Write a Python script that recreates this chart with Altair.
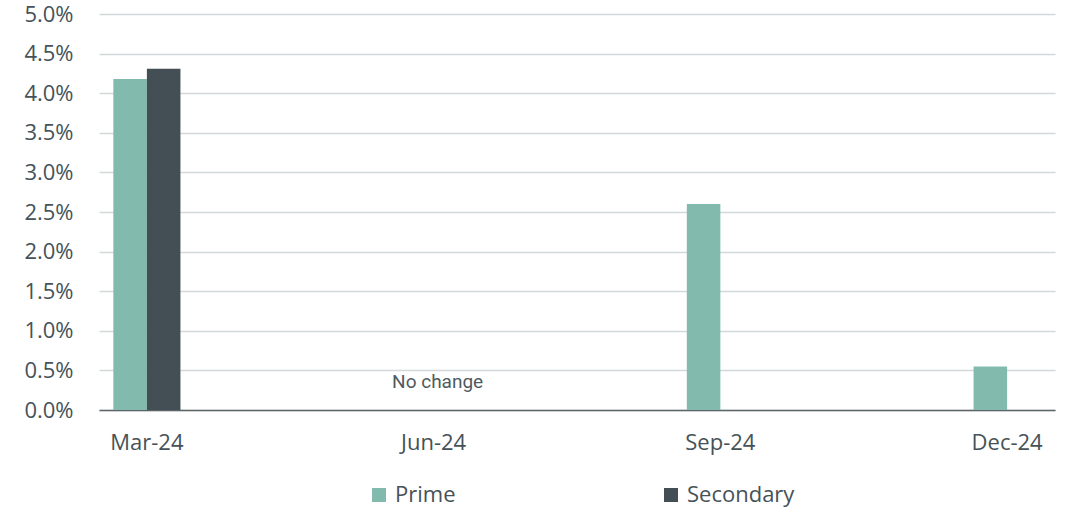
import altair as alt
import pandas as pd

categories = ["Mar-24", "Jun-24", "Sep-24", "Dec-24"]
prime = [0.0418, 0.0, 0.0260, 0.0055]
secondary = [0.0431, 0.0, 0.0, 0.0]
series = ["Prime", "Secondary"]
colors = ["#82BBAD", "#434F54"]
y_ticks = [0.0, 0.005, 0.01, 0.015, 0.02, 0.025, 0.03, 0.035, 0.04, 0.045, 0.05]
note_category = "Jun-24"
note_text = "No change"
note_y = 0.0028

rows = []
for i, c in enumerate(categories):
    rows.append({"category": c, "series": "Prime", "value": prime[i]})
    rows.append({"category": c, "series": "Secondary", "value": secondary[i]})
df = pd.DataFrame(rows)
note_df = pd.DataFrame([{"category": note_category, "value": note_y, "text": note_text}])

FONT = "Open Sans"
TXT = "#465257"
FS = 22

x_axis = alt.Axis(
    title=None, labelAngle=0, labelFontSize=FS, labelFont=FONT, labelColor=TXT,
    ticks=False, labelPadding=22, domainColor="#5B666A", domainWidth=1.5,
    grid=False,
)
y_axis = alt.Axis(
    title=None, format=".1%", values=y_ticks, labelFontSize=FS, labelFont=FONT,
    labelColor=TXT, ticks=False, domain=False, labelPadding=26,
    labelOverlap=False, gridColor="#D3D8D9", gridWidth=1.5,
)
x_scale = alt.Scale(domain=categories, paddingInner=0.766, paddingOuter=0.05)
y_scale = alt.Scale(domain=[0, 0.05], nice=False)

bars = alt.Chart(df).mark_bar().encode(
    x=alt.X("category:N", sort=categories, scale=x_scale, axis=x_axis),
    xOffset=alt.XOffset("series:N", sort=series,
                        scale=alt.Scale(domain=series, paddingInner=0, paddingOuter=0)),
    y=alt.Y("value:Q", scale=y_scale, axis=y_axis),
    color=alt.Color(
        "series:N",
        scale=alt.Scale(domain=series, range=colors),
        legend=alt.Legend(
            title=None, orient="none", direction="horizontal", legendX=269, legendY=470,
            symbolType="square", symbolSize=196, symbolStrokeWidth=0, symbolOpacity=1,
            labelFontSize=FS, labelFont=FONT, labelColor=TXT, columnPadding=204,
            labelOffset=5,
        ),
    ),
)

note = alt.Chart(note_df).mark_text(
    font="Roboto", fontSize=19, color="#4F5A5E", baseline="alphabetic", align="center", dx=4
).encode(
    x=alt.X("category:N", sort=categories, scale=x_scale, axis=x_axis),
    y=alt.Y("value:Q", scale=y_scale, axis=y_axis),
    text="text:N",
)

chart = alt.layer(bars, note).properties(
    width=956, height=396,
    autosize=alt.AutoSizeParams(type="none"),
    padding={"left": 99, "top": 14, "right": 14, "bottom": 97},
).configure(background="white").configure_view(stroke=None)

chart.save("out.html", embed_options={"renderer": "svg", "actions": False})
